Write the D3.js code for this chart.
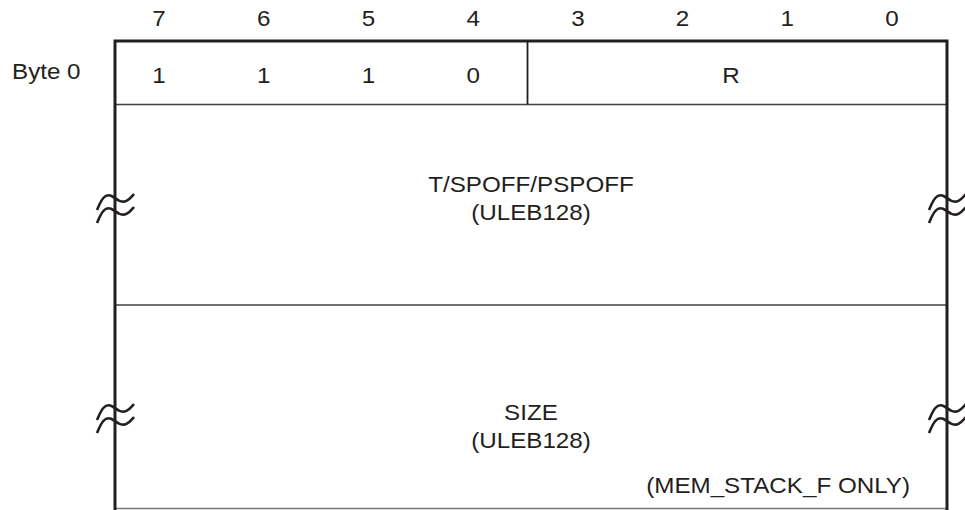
<!DOCTYPE html>
<html>
<head>
<meta charset="utf-8">
<script src="https://cdn.jsdelivr.net/npm/d3@7"></script>
<style>
  html, body { margin: 0; padding: 0; background: #fff; }
  text { font-family: "Liberation Sans", Arial, sans-serif; fill: #231f20; }
</style>
</head>
<body>
<div id="chart"></div>
<script>
// bit numbers across the top
var bits = [7, 6, 5, 4, 3, 2, 1, 0];

// byte 0: opcode bits 7..4 shown one by one, then field R in bits 3..0
var opcodeBits = [1, 1, 1, 0];
var byte0Fields = [
  { label: "R", hi: 3, lo: 0 }
];

// variable length rows below byte 0
var rowLabels = [
  ["T/SPOFF/PSPOFF", "(ULEB128)"],
  ["SIZE", "(ULEB128)"]
];
var rowNote = "(MEM_STACK_F ONLY)";

var W = 965, H = 510;
var boxL = 115, boxR = 947, boxT = 41;
var rowY = [104.5, 305, 508.5];   // bottoms of byte0, row1, row2

var ink = "#231f20";

var svg = d3.select("#chart").append("svg")
    .attr("width", W)
    .attr("height", H);

// bit position scale (labels sit on these points)
var x = d3.scaleLinear()
    .domain([7, 0])
    .range([159, 892]);

function label(sel, txt, cx, y, anchor) {
  return sel.append("text")
      .attr("transform", "translate(" + cx + "," + y + ") scale(1.1,1)")
      .attr("text-anchor", anchor || "middle")
      .attr("font-size", 22)
      .text(txt);
}

// bit numbers
bits.forEach(function(b) { label(svg, b, x(b), 26); });

// Byte 0 caption
label(svg, "Byte 0", 12, 79, "start");

// inner horizontal lines
rowY.forEach(function(y, i) {
  svg.append("line")
      .attr("x1", boxL).attr("x2", boxR)
      .attr("y1", y).attr("y2", y)
      .attr("stroke", ink)
      .attr("stroke-opacity", i == 2 ? 0.6 : 0.85)
      .attr("stroke-width", 1.6);
});

// opcode bit values
opcodeBits.forEach(function(v, i) {
  label(svg, v, x(7 - i), 83);
});

// field divider and labels
byte0Fields.forEach(function(f) {
  var xd = x(f.hi + 0.5) + 2;
  svg.append("line")
      .attr("x1", xd).attr("x2", xd)
      .attr("y1", boxT).attr("y2", rowY[0])
      .attr("stroke", ink)
      .attr("stroke-width", 1.8);
  label(svg, f.label, (x(f.hi) + x(f.lo)) / 2 - 4, 83);
});

// outer frame: top + two sides
svg.append("path")
    .attr("d", "M" + boxL + "," + H + "V" + boxT + "H" + boxR + "V" + H)
    .attr("fill", "none")
    .attr("stroke", ink)
    .attr("stroke-width", 3);

// row texts
var cxMid = (boxL + boxR) / 2;
var rowText = [[192, 220], [420, 448]];
rowLabels.forEach(function(lines, i) {
  lines.forEach(function(l, j) {
    label(svg, l, cxMid, rowText[i][j]);
  });
});
label(svg, rowNote, 910, 493, "end");

// break marks (double tilde) on both edges of each variable row
var tilde = d3.line().curve(d3.curveBasis);
function breakMark(cx, cy) {
  [0, 13].forEach(function(dy) {
    var pts = [[-18, 12], [-12, -2], [-4, -4], [4, 4], [12, 4], [19, -4]]
      .map(function(p) { return [cx + p[0], cy + dy + p[1]]; });
    svg.append("path")
        .attr("d", tilde(pts))
        .attr("fill", "none")
        .attr("stroke", ink)
        .attr("stroke-width", 2.6);
  });
}
[198, 408].forEach(function(cy) {
  breakMark(boxL, cy);
  breakMark(boxR, cy);
});
</script>
</body>
</html>
